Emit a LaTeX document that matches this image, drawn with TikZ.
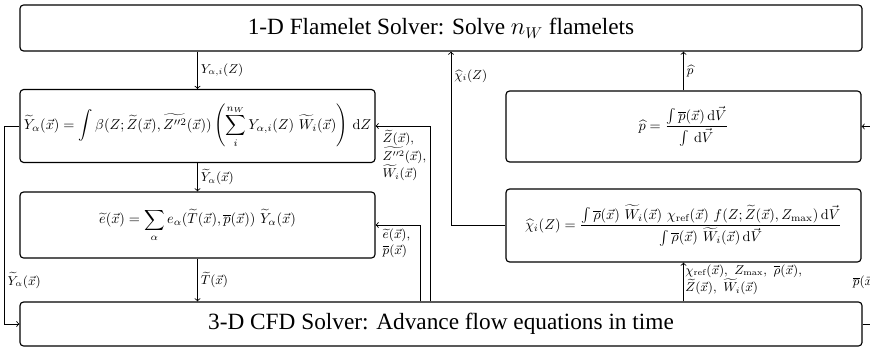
\documentclass[tikz,border=0pt]{standalone}
\usepackage{amsmath}
\usepackage{fontspec}
\newfontfamily\titlefont{Liberation Serif}
\tikzset{
  solverbox/.style={draw, rounded corners=2.5pt, line width=0.8pt, inner sep=0pt,
    minimum width=589.4pt, font=\titlefont\fontsize{16.3}{20}\selectfont},
  modelbox/.style={draw, rounded corners=2.5pt, line width=0.8pt, inner sep=0pt,
    minimum width=248.5pt},
  flow/.style={->, line width=0.6pt},
  lbl/.style={font=\small, inner sep=2pt}
}
\begin{document}
\begin{tikzpicture}[x=0.7pt, y=-0.7pt]
\useasboundingbox (0,0) rectangle (870,347);

\node[solverbox, minimum height=32.2pt] (flamelet) at (441,28) {1-D Flamelet Solver: Solve $n_W$ flamelets};
\node[solverbox, minimum height=30.8pt] (cfd) at (441,324) {3-D CFD Solver: Advance flow equations in time};

\node[modelbox, minimum height=51pt] (ymodel) at (197.5,126)
  {$\displaystyle \widetilde{Y}_\alpha(\vec{x}) = \int \beta(Z;\widetilde{Z}(\vec{x}),\widetilde{Z''^2}(\vec{x}))
   \left(\sum_i^{n_W} Y_{\alpha,i}(Z)\ \widetilde{W}_i(\vec{x})\right)\,\mathrm{d}Z$};
\node[modelbox, minimum height=46.2pt] (emodel) at (197.5,225)
  {$\displaystyle \widetilde{e}(\vec{x}) = \sum_\alpha e_\alpha(\widetilde{T}(\vec{x}),\overline{p}(\vec{x}))\ \widetilde{Y}_\alpha(\vec{x})$};
\node[modelbox, minimum height=49.7pt] (pmodel) at (683.5,126.5)
  {$\displaystyle \widehat{p} = \frac{\int \overline{p}(\vec{x})\,\mathrm{d}\vec{V}}{\int\,\mathrm{d}\vec{V}}$};
\node[modelbox, minimum height=51.1pt] (chimodel) at (683.5,225.5)
  {$\displaystyle \widehat{\chi}_i(Z) = \frac{\int \overline{\rho}(\vec{x})\ \widetilde{W}_i(\vec{x})\ \chi_{\mathrm{ref}}(\vec{x})\ f(Z;\widetilde{Z}(\vec{x}),Z_{\max})\,\mathrm{d}\vec{V}}{\int \overline{\rho}(\vec{x})\ \widetilde{W}_i(\vec{x})\,\mathrm{d}\vec{V}}$};

\coordinate (zfeed) at (430,0);
\coordinate (efeed) at (420,0);
\coordinate (chiup) at (451,0);

% left column
\draw[flow] (ymodel.north |- flamelet.south) -- (ymodel.north) node[lbl, midway, right] {$Y_{\alpha,i}(Z)$};
\draw[flow] (ymodel.south) -- (emodel.north) node[lbl, midway, right] {$\widetilde{Y}_\alpha(\vec{x})$};
\draw[flow] (emodel.south) -- (emodel.south |- cfd.north) node[lbl, midway, right] {$\widetilde{T}(\vec{x})$};
\draw[flow] (ymodel.west) -- ++(-15,0) |- node[lbl, pos=0.39, right] {$\widetilde{Y}_\alpha(\vec{x})$} (cfd.west);

% feedback from cfd
\draw[flow] (zfeed |- cfd.north) |- (ymodel.east);
\draw[flow] (efeed |- cfd.north) |- (emodel.east);
\node[lbl, align=left, anchor=north west, inner sep=1pt] (zlbl) at (381,128)
  {$\widetilde{Z}(\vec{x})$,\\ $\widetilde{Z''^2}(\vec{x})$,\\ $\widetilde{W}_i(\vec{x})$};
\node[lbl, align=left, anchor=north west, inner sep=1pt] (elbl) at (381,227)
  {$\widetilde{e}(\vec{x})$,\\ $\overline{p}(\vec{x})$};

% right column
\draw[flow] (chimodel.west) -| node[lbl, pos=0.93, right] {$\widehat{\chi}_i(Z)$} (chiup |- flamelet.south);
\draw[flow] (pmodel.north) -- (pmodel.north |- flamelet.south) node[lbl, midway, right] {$\widehat{p}$};
\draw[flow] (chimodel.south |- cfd.north) -- (chimodel.south)
  node[lbl, pos=1, anchor=north west, align=left, inner sep=1pt] {$\chi_{\mathrm{ref}}(\vec{x})$,\ \,$Z_{\max}$,\ \,$\overline{\rho}(\vec{x})$,\\ $\widetilde{Z}(\vec{x})$,\ \,$\widetilde{W}_i(\vec{x})$};
\draw[flow] (cfd.east) -- ++(18,0) |- node[lbl, pos=0.106, left] {$\overline{p}(\vec{x})$} (pmodel.east);
\end{tikzpicture}
\end{document}
